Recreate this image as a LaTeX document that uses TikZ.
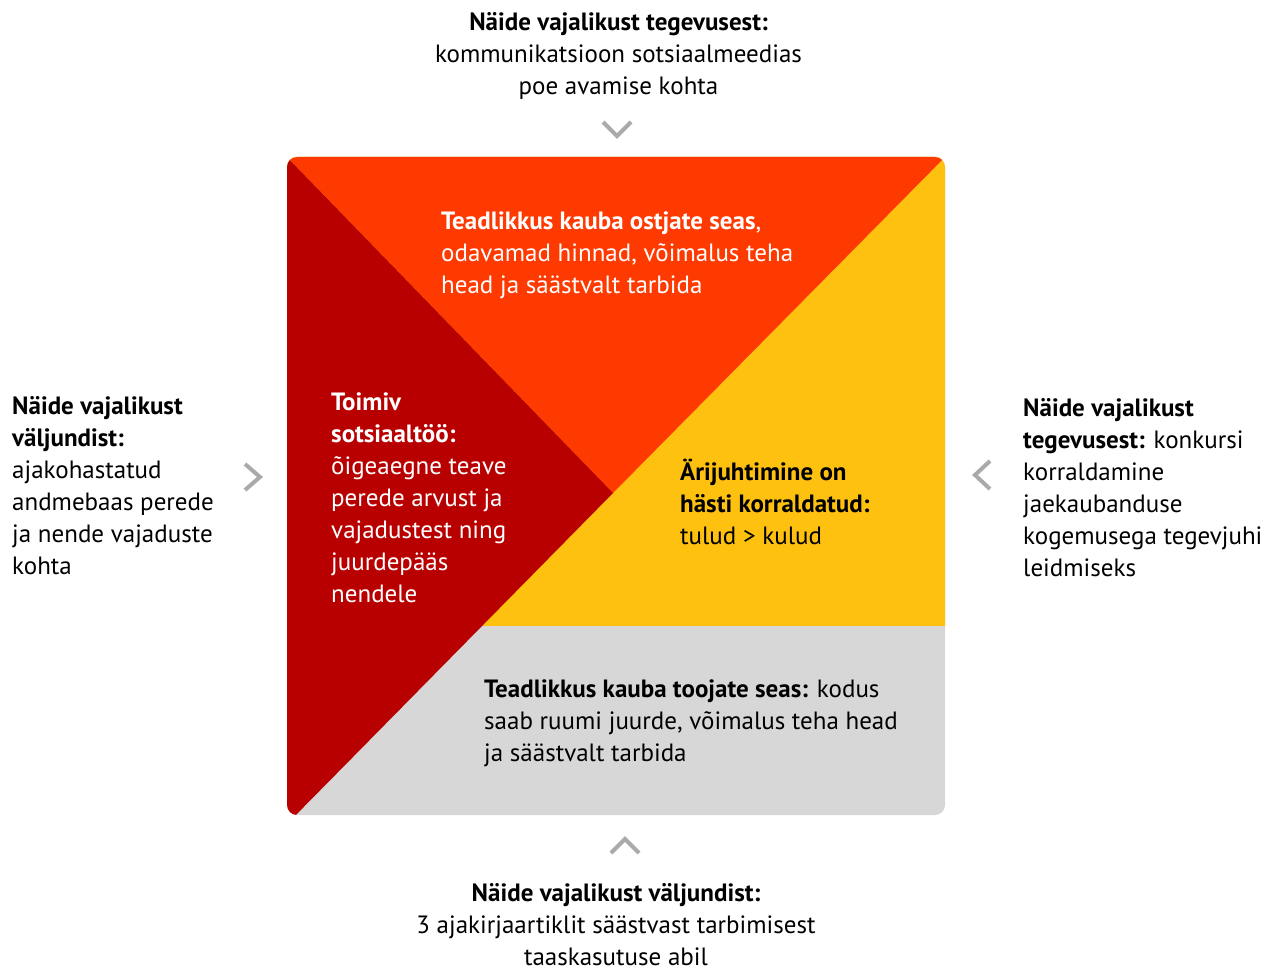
\documentclass[tikz,border=0pt]{standalone}
\usepackage{fontspec}
\setmainfont{PT Sans}
\definecolor{cOrange}{HTML}{FF3A00}
\definecolor{cDark}{HTML}{B90000}
\definecolor{cYellow}{HTML}{FEC10F}
\definecolor{cGray}{HTML}{D7D7D7}
\definecolor{cChev}{HTML}{AAAAAA}
\tikzset{
  txt/.style={inner sep=0pt, font=\fontsize{25}{32}\selectfont, align=left},
  wtxt/.style={txt, text=white},
  chev/.style={draw=cChev, line width=4pt, line cap=butt, line join=miter}
}
\begin{document}
\begin{tikzpicture}[x=1pt,y=-1pt]
\useasboundingbox (0,0) rectangle (1272,971);
% square
\begin{scope}
\clip[rounded corners=10pt] (287,157) rectangle (945,815);
\fill[cGray] (280,150) rectangle (950,820);
\fill[cYellow] (280,150) rectangle (950,625.5);
\fill[cOrange] (280,150) -- (950,150) -- (950,152) -- (613,493) -- (284,154) -- cycle;
\fill[cDark] (280,150) -- (613,493) -- (287,824) -- (280,824) -- cycle;
\end{scope}
% chevrons
\coordinate (t1) at (603,122); \coordinate (t2) at (617,136); \coordinate (t3) at (631,122);
\draw[chev] (t1) -- (t2) -- (t3);
\coordinate (b1) at (611,853); \coordinate (b2) at (625,839); \coordinate (b3) at (639,853);
\draw[chev] (b1) -- (b2) -- (b3);
\coordinate (l1) at (245,464); \coordinate (l2) at (260,477); \coordinate (l3) at (245,490);
\draw[chev] (l1) -- (l2) -- (l3);
\coordinate (r1) at (990,461); \coordinate (r2) at (975,475); \coordinate (r3) at (990,489);
\draw[chev] (r1) -- (r2) -- (r3);
% texts (anchor at baseline of last line)
\node[txt, align=center, anchor=base] (top) at (618.5,95) {\textbf{Näide vajalikust tegevusest:}\\kommunikatsioon sotsiaalmeedias\\poe avamise kohta};
\node[txt, align=center, anchor=base] (bottom) at (616,965) {\textbf{Näide vajalikust väljundist:}\\3 ajakirjaartiklit säästvast tarbimisest\\taaskasutuse abil};
\node[txt, anchor=base west] (left) at (12,574) {\textbf{Näide vajalikust}\\\textbf{väljundist:}\\ajakohastatud\\andmebaas perede\\ja nende vajaduste\\kohta};
\node[txt, anchor=base west] (right) at (1023,576) {\textbf{Näide vajalikust}\\\textbf{tegevusest:} konkursi\\korraldamine\\jaekaubanduse\\kogemusega tegevjuhi\\leidmiseks};
\node[wtxt, anchor=base west] (tri) at (441,293) {\textbf{Teadlikkus kauba ostjate seas},\\odavamad hinnad, võimalus teha\\head ja säästvalt tarbida};
\node[wtxt, anchor=base west] (red) at (331,602) {\textbf{Toimiv}\\\textbf{sotsiaaltöö:}\\õigeaegne teave\\perede arvust ja\\vajadustest ning\\juurdepääs\\nendele};
\node[txt, anchor=base west] (yel) at (680,544) {\textbf{Ärijuhtimine on}\\\textbf{hästi korraldatud:}\\tulud > kulud};
\node[txt, anchor=base west] (gry) at (484,761) {\textbf{Teadlikkus kauba toojate seas:} kodus\\saab ruumi juurde, võimalus teha head\\ja säästvalt tarbida};
\end{tikzpicture}
\end{document}
